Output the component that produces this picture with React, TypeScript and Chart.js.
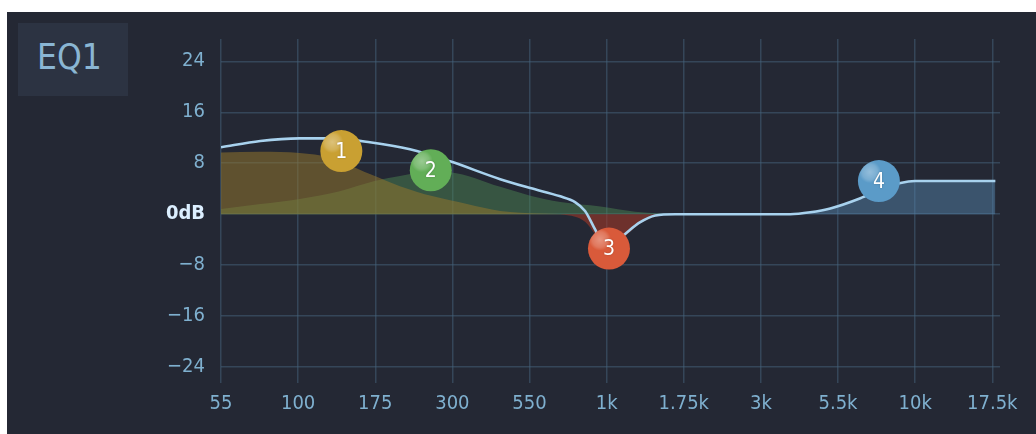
import React, { useEffect, useRef } from "react";
import { Chart, registerables } from "chart.js";

Chart.register(...registerables);

// Frequency categories (equally spaced on the axis)
const freqLabels = ["55", "100", "175", "300", "550", "1k", "1.75k", "3k", "5.5k", "10k", "17.5k"];
const yTicks = [-24, -16, -8, 0, 8, 16, 24];

// Overall EQ response curve (x in category-index units, value in dB)
const curveX = [0, 0.51, 1.02, 1.41, 1.93, 2.45, 2.97, 3.62, 4.01, 4.4, 4.59, 4.72, 4.85, 4.99, 5.11, 5.24, 5.43, 5.63, 5.89, 7.38, 7.64, 7.9, 8.29, 8.55, 8.81, 9.0, 10.04];
const curveDb = [10.5, 11.5, 11.9, 11.9, 11.3, 10.2, 8.3, 5.5, 4.1, 2.8, 1.9, 0.5, -2.4, -5.5, -4.4, -3.1, -1.3, -0.2, 0, 0, 0.3, 0.9, 2.5, 3.9, 4.9, 5.2, 5.2];

// Band 1: low shelf
const band1X = [0, 0.51, 1.02, 1.41, 1.93, 2.32, 2.75, 3.19, 3.62, 4.14, 4.66];
const band1Db = [9.7, 9.8, 9.6, 8.9, 6.3, 4.4, 2.8, 1.6, 0.5, 0.1, 0];

// Band 2: peak
const band2X = [0, 0.51, 1.02, 1.54, 1.99, 2.32, 2.72, 2.97, 3.62, 4.01, 4.4, 4.92, 5.37, 5.7, 5.89];
const band2Db = [0.8, 1.6, 2.4, 3.6, 5.2, 6.0, 6.7, 6.6, 4.3, 2.9, 1.9, 1.2, 0.4, 0.1, 0];

// Band 3: dip
const band3X = [4.4, 4.59, 4.72, 4.85, 4.99, 5.11, 5.24, 5.43, 5.63, 5.89];
const band3Db = [0, -0.4, -1.2, -3.2, -6.2, -5.0, -3.5, -1.5, -0.4, 0];

// Band 4: high shelf
const band4X = [7.38, 7.64, 7.9, 8.29, 8.55, 8.81, 9.0, 10.04];
const band4Db = [0, 0.3, 0.9, 2.5, 3.9, 4.9, 5.2, 5.2];

// Band handles
const nodeLabels = ["1", "2", "3", "4"];
const nodeX = [1.56, 2.72, 5.03, 8.53];
const nodeDb = [9.9, 6.9, -5.4, 5.2];
const nodeColors = ["#c9a032", "#62ae57", "#d95a3a", "#5b9bc8"];

const pts = (xs: number[], ys: number[]) => xs.map((x, i) => ({ x, y: ys[i] }));

const FONT = "'DejaVu Sans Condensed', 'DejaVu Sans', sans-serif";

const nodePlugin = {
  id: "nodeDecor",
  afterDatasetsDraw(chart: any) {
    const ctx = chart.ctx;
    const meta = chart.getDatasetMeta(0);
    meta.data.forEach((el: any, i: number) => {
      const { x, y } = el.getProps(["x", "y"], true);
      const r = 21;
      ctx.save();
      const g = ctx.createRadialGradient(x - 9, y - 9, 0, x - 9, y - 9, 11);
      g.addColorStop(0, "rgba(255,255,255,0.35)");
      g.addColorStop(0.7, "rgba(255,255,255,0.18)");
      g.addColorStop(1, "rgba(255,255,255,0)");
      ctx.beginPath();
      ctx.arc(x, y, r, 0, Math.PI * 2);
      ctx.clip();
      ctx.fillStyle = g;
      ctx.fillRect(x - r, y - r, 2 * r, 2 * r);
      ctx.restore();
      ctx.save();
      ctx.fillStyle = "#ffffff";
      ctx.font = `21px ${FONT}`;
      ctx.textAlign = "center";
      ctx.textBaseline = "middle";
      ctx.shadowColor = "rgba(0,0,0,0.25)";
      ctx.shadowBlur = 2;
      ctx.fillText(nodeLabels[i], x, y + 1);
      ctx.restore();
    });
  },
};

export default function App() {
  const ref = useRef<HTMLCanvasElement | null>(null);

  useEffect(() => {
    document.body.style.margin = "0";
    const canvas = ref.current;
    if (!canvas) return;
    const chart = new Chart(canvas, {
      type: "line",
      data: {
        datasets: [
          {
            data: pts(nodeX, nodeDb),
            showLine: false,
            pointRadius: 21,
            pointHoverRadius: 21,
            pointBackgroundColor: nodeColors,
            pointBorderWidth: 0,
            order: 0,
          } as any,
          {
            data: pts(curveX, curveDb),
            borderColor: "#a8d2ee",
            borderWidth: 2.6,
            pointRadius: 0,
            cubicInterpolationMode: "monotone",
            fill: false,
            order: 1,
          },
          {
            data: pts(band4X, band4Db),
            borderWidth: 0,
            pointRadius: 0,
            cubicInterpolationMode: "monotone",
            fill: "origin",
            backgroundColor: "rgba(88,138,180,0.45)",
            order: 2,
          },
          {
            data: pts(band3X, band3Db),
            borderWidth: 0,
            pointRadius: 0,
            cubicInterpolationMode: "monotone",
            fill: "origin",
            backgroundColor: "rgba(160,55,40,0.6)",
            order: 3,
          },
          {
            data: pts(band1X, band1Db),
            borderWidth: 0,
            pointRadius: 0,
            cubicInterpolationMode: "monotone",
            fill: "origin",
            backgroundColor: "rgba(150,118,45,0.52)",
            order: 4,
          },
          {
            data: pts(band2X, band2Db),
            borderWidth: 0,
            pointRadius: 0,
            cubicInterpolationMode: "monotone",
            fill: "origin",
            backgroundColor: "rgba(80,140,85,0.45)",
            order: 5,
          },
        ],
      },
      options: {
        animation: false,
        responsive: false,
        events: [],
        layout: { padding: { left: 0, top: 39, right: 36, bottom: 21 } },
        plugins: { legend: { display: false }, tooltip: { enabled: false } },
        scales: {
          x: {
            type: "linear",
            min: 0,
            max: 10.1,
            afterFit: (s: any) => {
              s.height = 30;
            },
            afterBuildTicks: (s: any) => {
              s.ticks = freqLabels.map((_, i) => ({ value: i }));
            },
            grid: { color: "rgba(70,100,125,0.5)", lineWidth: 1.5, drawTicks: false },
            border: { display: false },
            ticks: {
              autoSkip: false,
              maxRotation: 0,
              padding: 9,
              color: "#7fb0cf",
              font: { family: FONT, size: 20 },
              callback: (v: any) => freqLabels[Math.round(Number(v))] ?? "",
            },
          },
          y: {
            type: "linear",
            min: -26.5,
            max: 27.5,
            afterFit: (s: any) => {
              s.width = 221;
            },
            afterBuildTicks: (s: any) => {
              s.ticks = yTicks.map((v) => ({ value: v }));
            },
            grid: { color: "rgba(70,100,125,0.5)", lineWidth: 1.5, drawTicks: false },
            border: { display: false },
            ticks: {
              padding: 16,
              color: (c: any) => (c.tick && c.tick.value === 0 ? "#dcefff" : "#7fb0cf"),
              font: (c: any) => ({
                family: FONT,
                size: 20,
                weight: c.tick && c.tick.value === 0 ? "bold" : "normal",
              }),
              callback: (v: any) => {
                const n = Number(v);
                if (n === 0) return "0dB";
                return n < 0 ? "\u2212" + Math.abs(n) : String(n);
              },
            },
          },
        },
      },
      plugins: [nodePlugin],
    } as any);
    return () => chart.destroy();
  }, []);

  return (
    <div style={{ position: "relative", width: 1036, height: 434, background: "#ffffff", overflow: "hidden" }}>
      <div style={{ position: "absolute", left: 7, top: 12, right: 0, bottom: 0, background: "#242834" }} />
      <div
        style={{
          position: "absolute",
          left: 18,
          top: 23,
          width: 110,
          height: 73,
          background: "#2c3342",
        }}
      />
      <div
        style={{
          position: "absolute",
          left: 37,
          top: 37,
          color: "#8ab6d3",
          fontFamily: FONT,
          fontSize: 35,
          lineHeight: "40px",
        }}
      >
        EQ1
      </div>
      <canvas ref={ref} width={1036} height={434} style={{ position: "absolute", left: 0, top: 0 }} />
    </div>
  );
}
